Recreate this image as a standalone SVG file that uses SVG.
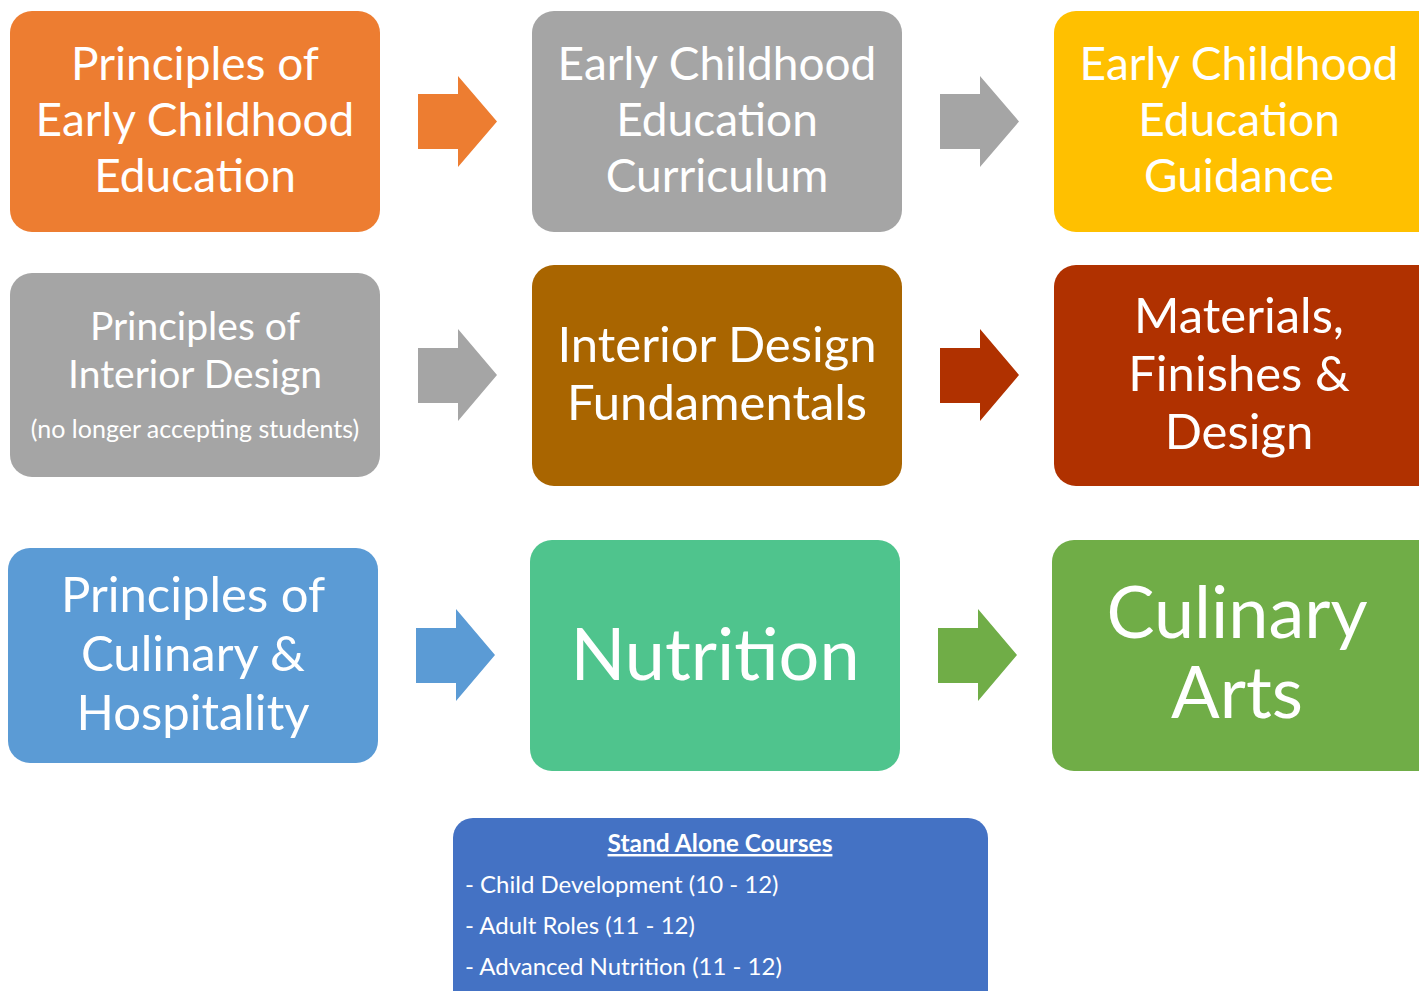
<svg xmlns="http://www.w3.org/2000/svg" width="1419" height="991" viewBox="0 0 1419 991">
<style>
text{font-family:Lato,"Open Sans",sans-serif;fill:#fff;text-anchor:middle}
.t46{font-size:46px}
.t49{font-size:49px}
.t39{font-size:39px}
.t25{font-size:25px}
.t72{font-size:72px}
.s{font-size:24px;text-anchor:start}
</style>
<rect width="1419" height="991" fill="#fff"/>
<g id="connectors">
<path d="M418 94H458V76L497 121.5L458 167V149H418Z" fill="#ED7D31"/>
<path d="M940 94H980V76L1019 121.5L980 167V149H940Z" fill="#A5A5A5"/>
<path d="M418 348H458V329L497 375L458 421V403H418Z" fill="#A5A5A5"/>
<path d="M940 348H980V329L1019 375L980 421V403H940Z" fill="#B03100"/>
<path d="M416 628H456V609L495 655L456 701V683H416Z" fill="#5B9BD5"/>
<path d="M938 628H978V609L1017 655L978 701V683H938Z" fill="#70AD47"/>
</g>
<g id="n1"><rect x="10" y="11" width="370" height="221" rx="22" fill="#ED7D31"/>
<text class="t46" x="195" y="80">Principles of</text><text class="t46" x="195" y="136">Early Childhood</text><text class="t46" x="195" y="192">Education</text></g>
<g id="n2"><rect x="532" y="11" width="370" height="221" rx="22" fill="#A5A5A5"/>
<text class="t46" x="717" y="80">Early Childhood</text><text class="t46" x="717" y="136">Education</text><text class="t46" x="717" y="192">Curriculum</text></g>
<g id="n3"><rect x="1054" y="11" width="390" height="221" rx="22" fill="#FFC000"/>
<text class="t46" x="1239" y="80">Early Childhood</text><text class="t46" x="1239" y="136">Education</text><text class="t46" x="1239" y="192">Guidance</text></g>
<g id="n4"><rect x="10" y="273" width="370" height="204" rx="22" fill="#A5A5A5"/>
<text class="t39" x="195" y="340">Principles of</text><text class="t39" x="195" y="388">Interior Design</text><text class="t25" x="195" y="438">(no longer accepting students)</text></g>
<g id="n5"><rect x="532" y="265" width="370" height="221" rx="22" fill="#A96500"/>
<text class="t49" x="717" y="362">Interior Design</text><text class="t49" x="717" y="420">Fundamentals</text></g>
<g id="n6"><rect x="1054" y="265" width="390" height="221" rx="22" fill="#B03100"/>
<text class="t49" x="1239" y="333">Materials,</text><text class="t49" x="1239" y="391">Finishes &amp;</text><text class="t49" x="1239" y="449">Design</text></g>
<g id="n7"><rect x="8" y="548" width="370" height="215" rx="22" fill="#5B9BD5"/>
<text class="t49" x="193" y="612">Principles of</text><text class="t49" x="193" y="671">Culinary &amp;</text><text class="t49" x="193" y="730">Hospitality</text></g>
<g id="n8"><rect x="530" y="540" width="370" height="231" rx="22" fill="#4FC48D"/>
<text class="t72" x="715" y="680">Nutrition</text></g>
<g id="n9"><rect x="1052" y="540" width="392" height="231" rx="22" fill="#70AD47"/>
<text class="t72" x="1237" y="638">Culinary</text><text class="t72" x="1237" y="718">Arts</text></g>
<g id="n10"><rect x="453" y="818" width="535" height="200" rx="20" fill="#4472C4"/>
<text x="720" y="852" style="font-size:24.5px;font-weight:bold;text-decoration:underline">Stand Alone Courses</text>
<text class="s" x="465" y="893">- Child Development (10 - 12)</text>
<text class="s" x="465" y="934">- Adult Roles (11 - 12)</text>
<text class="s" x="465" y="975">- Advanced Nutrition (11 - 12)</text></g>
</svg>
